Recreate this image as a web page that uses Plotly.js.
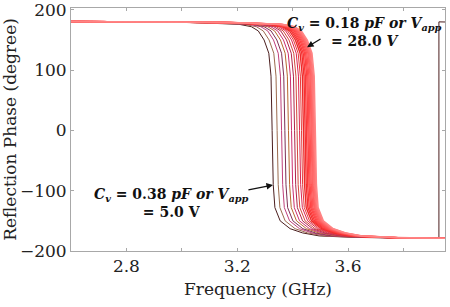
<!DOCTYPE html>
<html><head><meta charset="utf-8">
<script src="https://cdn.plot.ly/plotly-3.0.1.min.js"></script>
<style>html,body{margin:0;padding:0;background:#fff}#chart{width:450px;height:307px}</style>
</head><body><div id="chart"></div>
<script>
// Shared phase levels (degree) reached by every curve, in order
const phaseLevels = [180.5, 179, 176, 172, 165, 150, 128, 90, 0, -90, -128, -150, -163, -170, -175, -177.5, -179];

// Frequency (GHz) at which each curve reaches each phase level (Cv = 0.38 pF ... 0.18 pF)
const freq01 = [2.6, 3.026, 3.206, 3.251, 3.276, 3.297, 3.314, 3.322, 3.326, 3.330, 3.336, 3.355, 3.391, 3.436, 3.496, 3.626, 3.928];
const freq02 = [2.6, 3.044, 3.224, 3.269, 3.294, 3.315, 3.332, 3.340, 3.344, 3.348, 3.354, 3.373, 3.409, 3.454, 3.514, 3.644, 3.95];
const freq03 = [2.6, 3.060, 3.240, 3.285, 3.310, 3.331, 3.348, 3.356, 3.360, 3.364, 3.370, 3.389, 3.425, 3.470, 3.530, 3.660, 3.95];
const freq04 = [2.6, 3.072, 3.252, 3.297, 3.322, 3.343, 3.360, 3.368, 3.372, 3.376, 3.382, 3.401, 3.437, 3.482, 3.542, 3.672, 3.95];
const freq05 = [2.6, 3.085, 3.265, 3.310, 3.335, 3.356, 3.373, 3.381, 3.385, 3.389, 3.395, 3.414, 3.450, 3.495, 3.555, 3.685, 3.95];
const freq06 = [2.6, 3.096, 3.276, 3.321, 3.346, 3.367, 3.384, 3.392, 3.396, 3.400, 3.406, 3.425, 3.461, 3.506, 3.566, 3.696, 3.95];
const freq07 = [2.6, 3.107, 3.287, 3.332, 3.357, 3.378, 3.395, 3.403, 3.407, 3.411, 3.417, 3.436, 3.472, 3.517, 3.577, 3.707, 3.95];
const freq08 = [2.6, 3.116, 3.296, 3.341, 3.366, 3.387, 3.404, 3.412, 3.416, 3.420, 3.426, 3.445, 3.481, 3.526, 3.586, 3.716, 3.95];
const freq09 = [2.6, 3.125, 3.305, 3.350, 3.375, 3.396, 3.413, 3.421, 3.425, 3.429, 3.435, 3.454, 3.490, 3.535, 3.595, 3.725, 3.95];
const freq10 = [2.6, 3.132, 3.312, 3.357, 3.382, 3.403, 3.420, 3.428, 3.432, 3.436, 3.442, 3.461, 3.497, 3.542, 3.602, 3.732, 3.95];
const freq11 = [2.6, 3.139, 3.319, 3.364, 3.389, 3.410, 3.427, 3.435, 3.439, 3.443, 3.449, 3.468, 3.504, 3.549, 3.609, 3.739, 3.95];
const freq12 = [2.6, 3.145, 3.325, 3.370, 3.395, 3.416, 3.433, 3.441, 3.445, 3.449, 3.455, 3.474, 3.510, 3.555, 3.615, 3.745, 3.95];
const freq13 = [2.6, 3.150, 3.330, 3.375, 3.400, 3.421, 3.438, 3.446, 3.450, 3.454, 3.460, 3.479, 3.515, 3.560, 3.620, 3.750, 3.95];
const freq14 = [2.6, 3.155, 3.335, 3.380, 3.405, 3.426, 3.443, 3.451, 3.455, 3.459, 3.465, 3.484, 3.520, 3.565, 3.625, 3.755, 3.95];
const freq15 = [2.6, 3.159, 3.339, 3.384, 3.409, 3.430, 3.447, 3.455, 3.459, 3.463, 3.469, 3.488, 3.524, 3.569, 3.629, 3.759, 3.95];
const freq16 = [2.6, 3.163, 3.343, 3.388, 3.413, 3.434, 3.451, 3.459, 3.463, 3.467, 3.473, 3.492, 3.528, 3.573, 3.633, 3.763, 3.95];
const freq17 = [2.6, 3.167, 3.347, 3.392, 3.417, 3.438, 3.455, 3.463, 3.467, 3.471, 3.477, 3.496, 3.532, 3.577, 3.637, 3.767, 3.95];
const freq18 = [2.6, 3.170, 3.350, 3.395, 3.420, 3.441, 3.458, 3.466, 3.470, 3.474, 3.480, 3.499, 3.535, 3.580, 3.640, 3.770, 3.95];
const freq19 = [2.6, 3.173, 3.353, 3.398, 3.423, 3.444, 3.461, 3.469, 3.473, 3.477, 3.483, 3.502, 3.538, 3.583, 3.643, 3.773, 3.95];
const freq20 = [2.6, 3.176, 3.356, 3.401, 3.426, 3.447, 3.464, 3.472, 3.476, 3.480, 3.486, 3.505, 3.541, 3.586, 3.646, 3.776, 3.95];
const freq21 = [2.6, 3.179, 3.359, 3.404, 3.429, 3.450, 3.467, 3.475, 3.479, 3.483, 3.489, 3.508, 3.544, 3.589, 3.649, 3.779, 3.95];
const freq22 = [2.6, 3.182, 3.362, 3.407, 3.432, 3.453, 3.470, 3.478, 3.482, 3.486, 3.492, 3.511, 3.547, 3.592, 3.652, 3.782, 3.95];

// Phase wrap of the 0.38 pF curve at the right edge
const wrapFreq = [3.928, 3.95];
const wrapPhase = [180, 179.8];

const xTickVals = [2.8, 3.2, 3.6];
const xTickText = ['2.8', '3.2', '3.6'];
const yTickVals = [-200, -100, 0, 100, 200];

const allFreqs = [freq01, freq02, freq03, freq04, freq05, freq06, freq07, freq08, freq09, freq10, freq11,
  freq12, freq13, freq14, freq15, freq16, freq17, freq18, freq19, freq20, freq21, freq22];

const colors = ['#4b1e1e','#9c6b4e','#c0407a','#7d2f55','#b8682e','#cc2f70','#b0254a','#d4483c','#dc2450',
  '#e53a3a','#ee2a2a','#f43030','#fa3a3a','#ff4242','#ff4a4a','#ff5252','#ff5a5a','#ff6262','#ff6a6a',
  '#ff7272','#ff7a7a','#ff8484'];

const traces = allFreqs.map((fx, i) => {
  let x = fx.slice(), y = phaseLevels.slice();
  if (i === 0) { x = x.concat(wrapFreq); y = y.concat(wrapPhase); }
  return {x: x, y: y, type: 'scatter', mode: 'lines', showlegend: false,
    line: {color: colors[i], width: i < 10 ? 1 : 1.4}, hoverinfo: 'skip'};
});

const serif = 'DejaVu Serif, serif';
const axisCommon = {showgrid: false, zeroline: false, showline: true, linecolor: '#a8a8a8', linewidth: 1,
  mirror: 'ticks', ticks: 'inside', ticklen: 3, tickcolor: '#a8a8a8', ticklabeloverflow: 'allow',
  tickfont: {family: serif, size: 17, color: '#222'}};

const layout = {
  width: 450, height: 307,
  margin: {l: 71, r: 5, t: 8, b: 56},
  paper_bgcolor: '#fff', plot_bgcolor: '#fff',
  xaxis: Object.assign({}, axisCommon, {range: [2.6, 3.95], tickmode: 'array', tickvals: xTickVals, ticktext: xTickText,
    minor: {tickmode: 'array', tickvals: [3.0, 3.4, 3.8], ticks: 'inside', ticklen: 3, tickcolor: '#a8a8a8', showgrid: false},
    title: {text: 'Frequency (GHz)', font: {family: serif, size: 17, color: '#222'}, standoff: 7}}),
  yaxis: Object.assign({}, axisCommon, {range: [-200, 203], tickmode: 'array', tickvals: yTickVals,
    title: {text: 'Reflection Phase (degree)', font: {family: serif, size: 17, color: '#222'}, standoff: 2}}),
  annotations: [
    {x: 3.658, y: 163, xref: 'x', yref: 'y', showarrow: false, xanchor: 'center', yanchor: 'middle', align: 'center',
     text: '<b><i>C</i><sub><i>v</i></sub> = 0.18 <i>pF or V</i><sub><i>app</i></sub></b><br><b>= 28.0 <i>V</i></b>',
     font: {family: serif, size: 14, color: '#111'}},
    {x: 2.961, y: -120.4, xref: 'x', yref: 'y', showarrow: false, xanchor: 'center', yanchor: 'middle', align: 'center',
     text: '<b><i>C</i><sub><i>v</i></sub> = 0.38 <i>pF or V</i><sub><i>app</i></sub></b><br><b>= 5.0 V</b>',
     font: {family: serif, size: 14, color: '#111'}},
    {x: 3.452, y: 138, ax: 3.506, ay: 153, xref: 'x', yref: 'y', axref: 'x', ayref: 'y', text: '',
     showarrow: true, arrowhead: 2, arrowsize: 1, arrowwidth: 1.3, arrowcolor: '#111'},
    {x: 3.329, y: -90.5, ax: 3.235, ay: -99, xref: 'x', yref: 'y', axref: 'x', ayref: 'y', text: '',
     showarrow: true, arrowhead: 2, arrowsize: 1, arrowwidth: 1.3, arrowcolor: '#111'}
  ]
};

Plotly.newPlot('chart', traces, layout, {staticPlot: true, displayModeBar: false});
</script></body></html>
